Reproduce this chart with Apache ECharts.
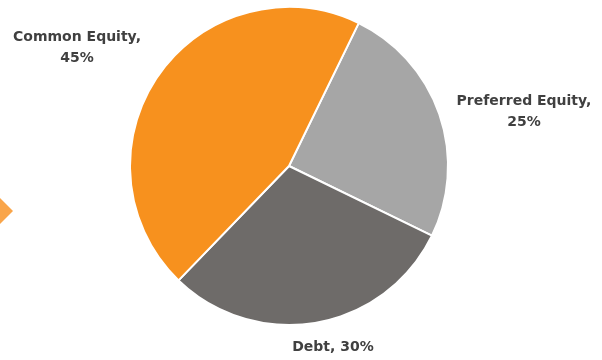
<!DOCTYPE html>
<html><head><meta charset="utf-8">
<script src="https://cdn.jsdelivr.net/npm/echarts@6/dist/echarts.min.js"></script>
<style>html,body{margin:0;padding:0;background:#fff}#c{width:602px;height:360px}</style>
</head><body><div id="c"></div>
<script>
const categories = ['Preferred Equity', 'Debt', 'Common Equity'];
const values = [25, 30, 45];
const colors = ['#A6A6A6', '#6E6B69', '#F7911E'];
const labelPos = [[524, 112], [333, 347], [77, 48]];

const chart = echarts.init(document.getElementById('c'), null, {renderer: 'canvas'});
chart.setOption({
  animation: false,
  graphic: [{
    type: 'polygon',
    shape: {points: [[0, 198], [13, 211], [0, 224]]},
    style: {fill: '#F9A54A'}
  }],
  series: [{
    type: 'pie',
    center: [289, 166],
    radius: [0, 159],
    startAngle: 64,
    clockwise: true,
    itemStyle: {borderColor: '#fff', borderWidth: 2},
    label: {
      show: true,
      formatter: function (p) {
        return p.dataIndex === 1 ? p.name + ', ' + p.value + '%' : p.name + ',\n' + p.value + '%';
      },
      fontFamily: 'DejaVu Sans',
      fontWeight: 'bold',
      fontSize: 14,
      lineHeight: 21,
      color: '#404040',
      align: 'center',
      overflow: 'none'
    },
    labelLine: {show: false},
    labelLayout: function (p) {
      const pos = labelPos[p.dataIndex];
      return {x: pos[0], y: pos[1], align: 'center', verticalAlign: 'middle', width: 200};
    },
    data: categories.map((c, i) => ({name: c, value: values[i], itemStyle: {color: colors[i]}}))
  }]
});
</script></body></html>
